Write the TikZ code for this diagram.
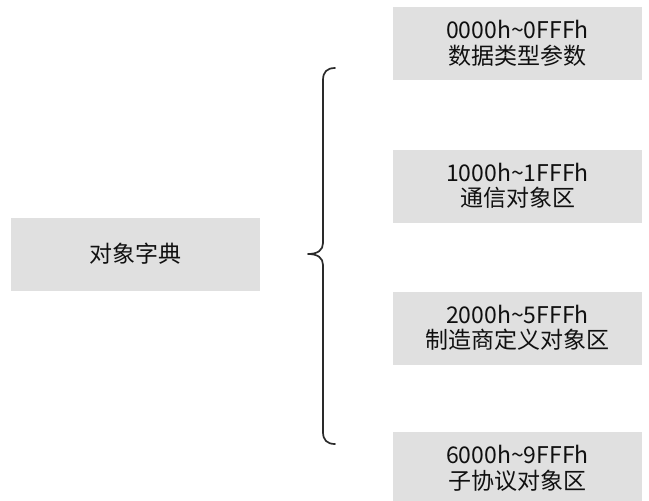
\documentclass[tikz,border=0pt]{standalone}
\usepackage{fontspec}
\setmainfont{Noto Sans CJK SC}
\definecolor{boxgray}{HTML}{E0E0E0}
\definecolor{txt}{HTML}{101010}
\definecolor{bracecol}{HTML}{2A2A2A}
\tikzset{
  graybox/.style={fill=boxgray, draw=none, minimum width=249pt, minimum height=73pt,
    inner sep=0pt, align=center, text=txt, font=\fontsize{23}{25.5}\selectfont},
}
\begin{document}
\begin{tikzpicture}[x=1pt,y=-1pt]
\clip (0,0) rectangle (649,501);
\fill[white] (0,0) rectangle (649,501);
\node[graybox] (dict) at (135.5,254) {对象字典};
\node[graybox] (b1) at (517.5,43.5) {0000h\textasciitilde 0FFFh\\数据类型参数};
\node[graybox] (b2) at (517.5,186) {1000h\textasciitilde 1FFFh\\通信对象区};
\node[graybox] (b3) at (517.5,328) {2000h\textasciitilde 5FFFh\\制造商定义对象区};
\node[graybox] (b4) at (517.5,468.5) {6000h\textasciitilde 9FFFh\\子协议对象区};
\coordinate (btop) at (335,68);
\coordinate (btip) at (308,254);
\coordinate (bbot) at (335,444);
\draw[bracecol, line width=1.7pt, line cap=round, line join=round]
  (btop) .. controls (327,68) and (323,72) .. (323,80)
  -- (323,243) .. controls (323,250) and (318,254) .. (btip)
  .. controls (318,254) and (323,258) .. (323,265)
  -- (323,432) .. controls (323,440) and (327,444) .. (bbot);
\end{tikzpicture}
\end{document}
